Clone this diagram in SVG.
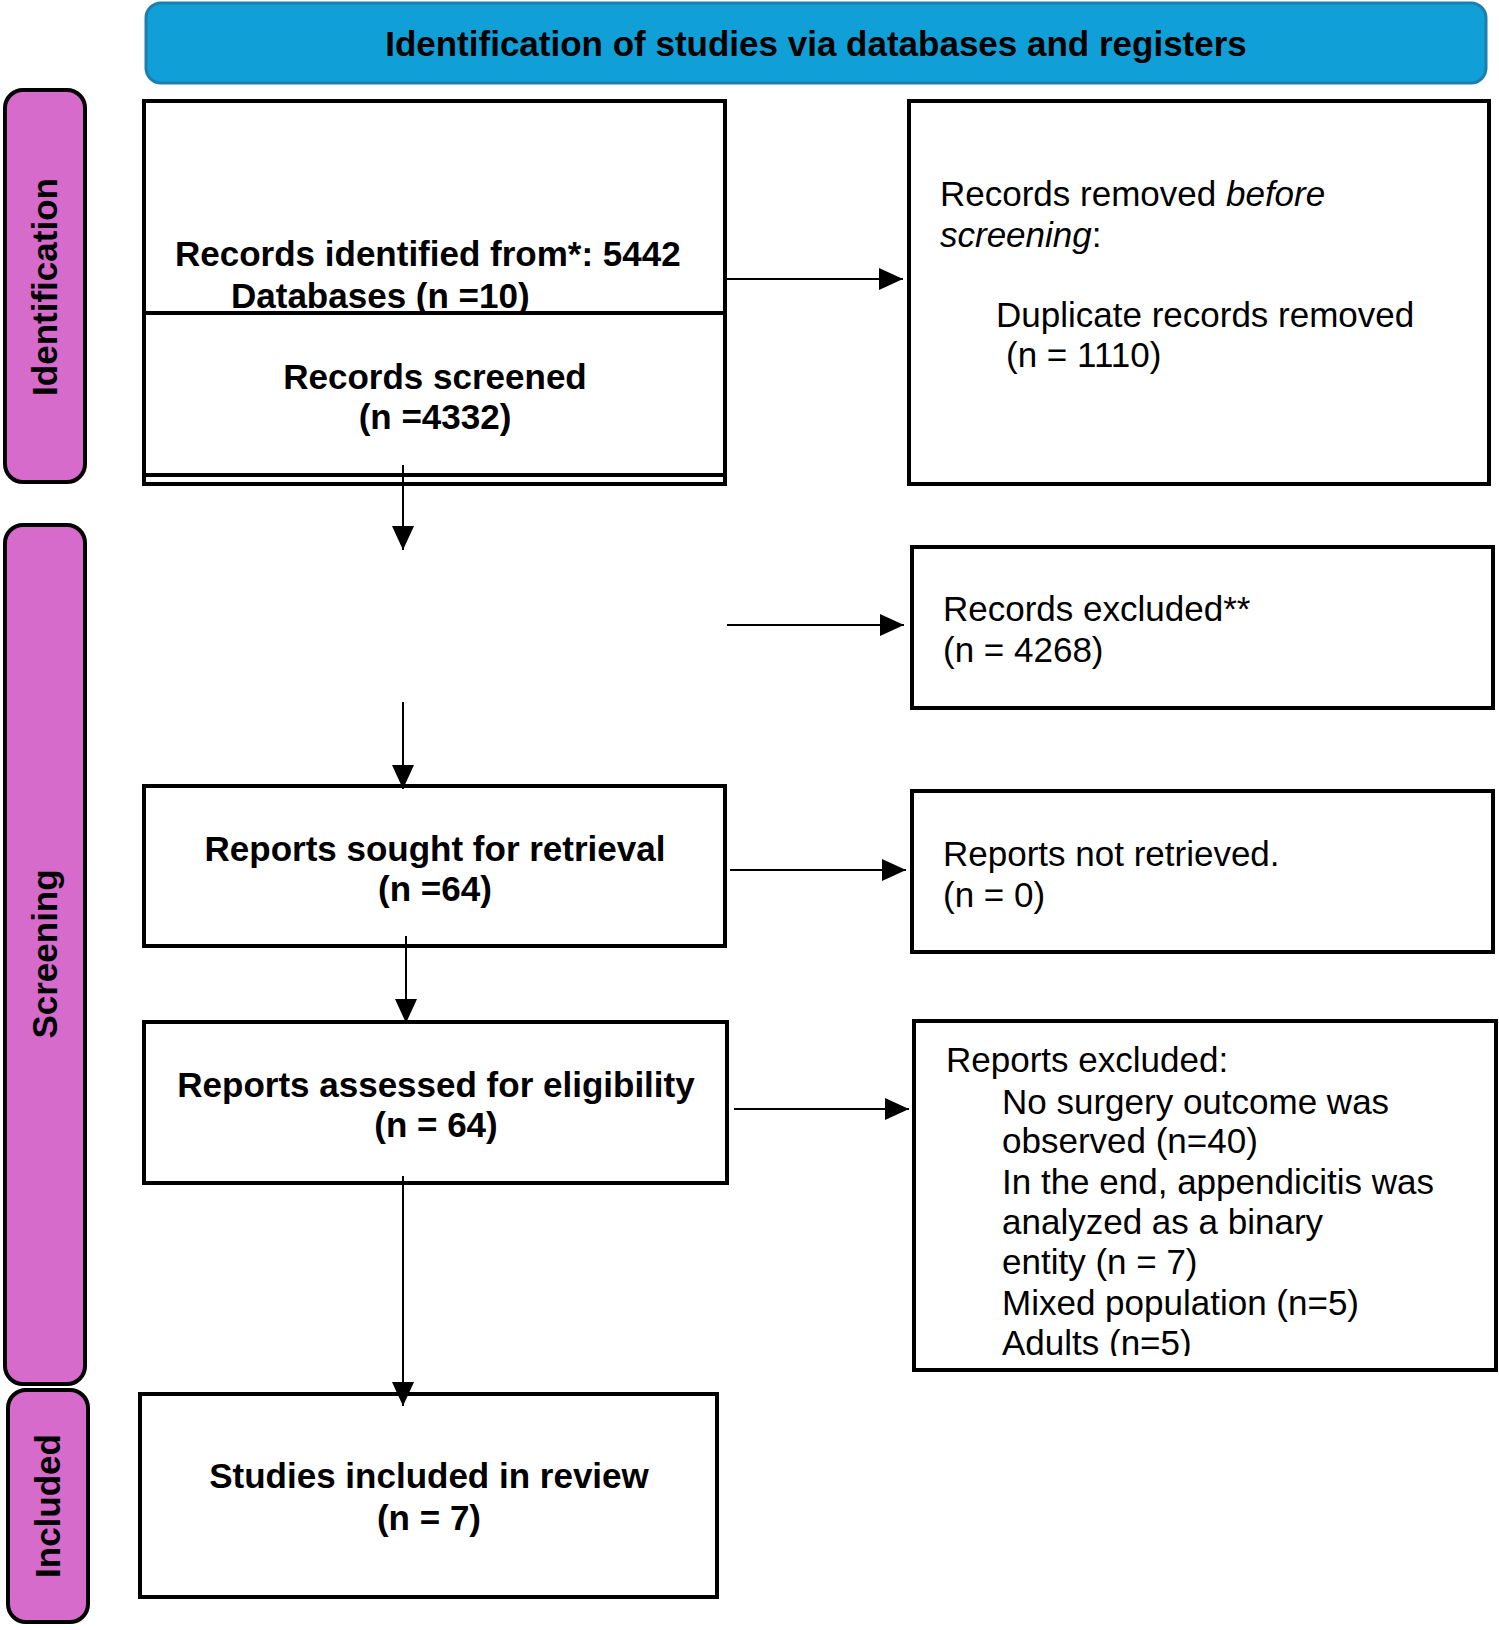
<svg xmlns="http://www.w3.org/2000/svg" width="1499" height="1630" viewBox="0 0 1499 1630">
<style>
.box{fill:#fff;stroke:#000;stroke-width:4}
.side{fill:#D66BCB;stroke:#000;stroke-width:4}
.b{font-family:"Liberation Sans",Arial,sans-serif;font-size:35px;font-weight:bold;fill:#000}
.r{font-family:"Liberation Sans",Arial,sans-serif;font-size:35px;fill:#000}
.c{text-anchor:middle}
.ln{stroke:#000;stroke-width:2;fill:none}
</style>
<defs>
<marker id="ah" viewBox="0 0 24 22" refX="24" refY="11" markerWidth="24" markerHeight="22" markerUnits="userSpaceOnUse" orient="auto">
<path d="M0,0 L24,11 L0,22 Z" fill="#000"/>
</marker>
<clipPath id="clipEx"><rect x="914" y="1021" width="582" height="335"/></clipPath>
</defs>

<g id="header">
<rect x="146" y="3" width="1340" height="80" rx="15" ry="15" fill="#109FD6" stroke="#1B7FB0" stroke-width="3"/>
<text class="b c" x="816" y="56">Identification of studies via databases and registers</text>
</g>

<g id="side-identification">
<rect class="side" x="5" y="90" width="80" height="392" rx="18" ry="18"/>
<text class="b c" transform="translate(57,287) rotate(-90)">Identification</text>
</g>
<g id="side-screening">
<rect class="side" x="5" y="525" width="80" height="859" rx="18" ry="18"/>
<text class="b c" transform="translate(57,954) rotate(-90)">Screening</text>
</g>
<g id="side-included">
<rect class="side" x="8" y="1390" width="80" height="232" rx="18" ry="18"/>
<text class="b c" transform="translate(60,1506) rotate(-90)">Included</text>
</g>

<g id="records-identified">
<rect class="box" x="144" y="101" width="581" height="383"/>
<text class="b" x="175" y="266">Records identified from*: 5442</text>
<text class="b" x="231" y="308">Databases (n =10)</text>
<line x1="144" y1="313" x2="725" y2="313" stroke="#000" stroke-width="4"/>
</g>
<g id="records-screened">
<text class="b c" x="435" y="389">Records screened</text>
<text class="b c" x="435" y="429">(n =4332)</text>
<line x1="144" y1="475" x2="725" y2="475" stroke="#000" stroke-width="4"/>
</g>

<g id="records-removed">
<rect class="box" x="909" y="101" width="580" height="383"/>
<text class="r" x="940" y="206">Records removed <tspan font-style="italic">before</tspan></text>
<text class="r" x="940" y="247"><tspan font-style="italic">screening</tspan>:</text>
<text class="r" x="996" y="327">Duplicate records removed</text>
<text class="r" x="1006" y="367">(n = 1110)</text>
</g>

<g id="records-excluded">
<rect class="box" x="912" y="547" width="581" height="161"/>
<text class="r" x="943" y="621">Records excluded**</text>
<text class="r" x="943" y="662">(n = 4268)</text>
</g>

<g id="reports-sought">
<rect class="box" x="144" y="786" width="581" height="160"/>
<text class="b c" x="435" y="861">Reports sought for retrieval</text>
<text class="b c" x="435" y="901">(n =64)</text>
</g>

<g id="reports-not-retrieved">
<rect class="box" x="912" y="791" width="581" height="161"/>
<text class="r" x="943" y="866">Reports not retrieved.</text>
<text class="r" x="943" y="907">(n = 0)</text>
</g>

<g id="reports-assessed">
<rect class="box" x="144" y="1022" width="583" height="161"/>
<text class="b c" x="436" y="1097">Reports assessed for eligibility</text>
<text class="b c" x="436" y="1137">(n = 64)</text>
</g>

<g id="reports-excluded">
<rect class="box" x="914" y="1021" width="582" height="349"/>
<g clip-path="url(#clipEx)">
<text class="r" x="946" y="1072">Reports excluded:</text>
<text class="r" x="1002" y="1114">No surgery outcome was</text>
<text class="r" x="1002" y="1153">observed (n=40)</text>
<text class="r" x="1002" y="1194">In the end, appendicitis was</text>
<text class="r" x="1002" y="1234">analyzed as a binary</text>
<text class="r" x="1002" y="1274">entity (n = 7)</text>
<text class="r" x="1002" y="1315">Mixed population (n=5)</text>
<text class="r" x="1002" y="1355">Adults (n=5)</text>
</g>
</g>

<g id="studies-included">
<rect class="box" x="140" y="1394" width="577" height="203"/>
<text class="b c" x="429" y="1488">Studies included in review</text>
<text class="b c" x="429" y="1530">(n = 7)</text>
</g>

<g id="connectors">
<line class="ln" x1="727" y1="279" x2="903" y2="279" marker-end="url(#ah)"/>
<line class="ln" x1="403" y1="465" x2="403" y2="550" marker-end="url(#ah)"/>
<line class="ln" x1="727" y1="625" x2="904" y2="625" marker-end="url(#ah)"/>
<line class="ln" x1="403" y1="702" x2="403" y2="789" marker-end="url(#ah)"/>
<line class="ln" x1="730" y1="870" x2="906" y2="870" marker-end="url(#ah)"/>
<line class="ln" x1="406" y1="936" x2="406" y2="1023" marker-end="url(#ah)"/>
<line class="ln" x1="734" y1="1109" x2="909" y2="1109" marker-end="url(#ah)"/>
<line class="ln" x1="403" y1="1176" x2="403" y2="1406" marker-end="url(#ah)"/>
</g>
</svg>
